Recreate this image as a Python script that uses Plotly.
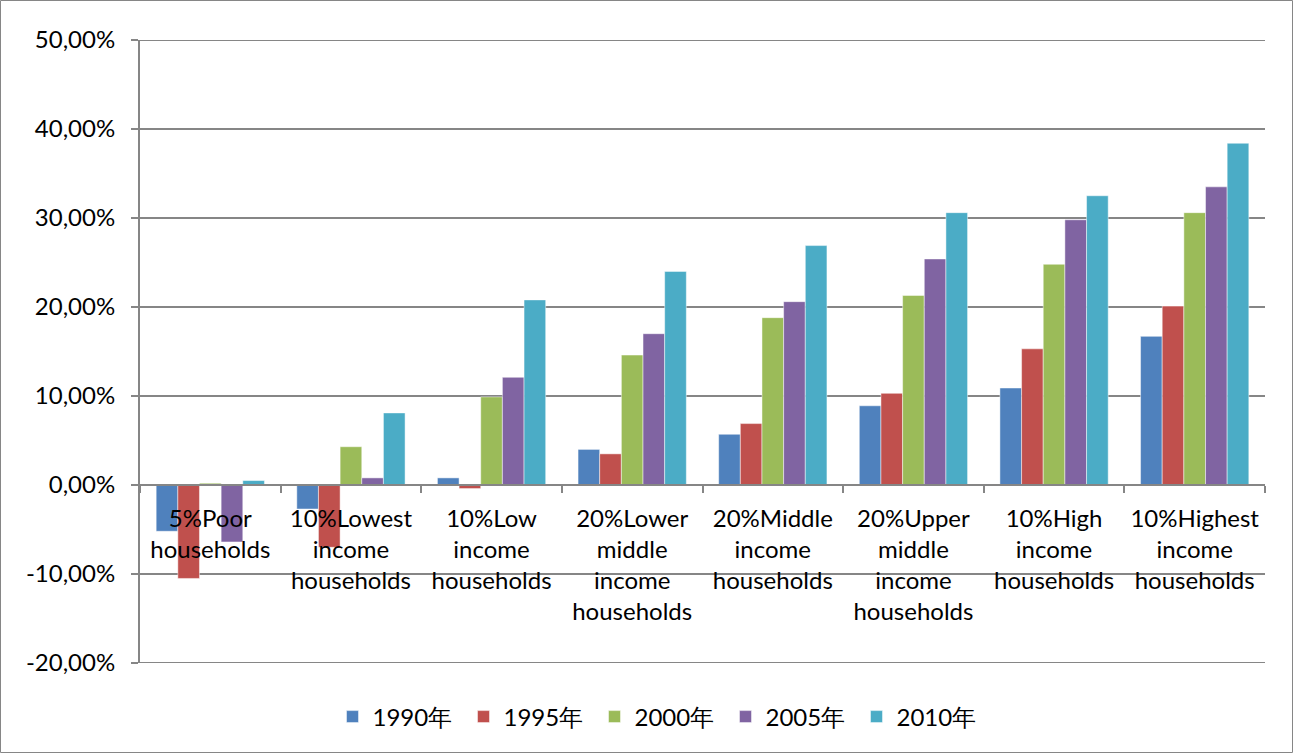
import plotly.graph_objects as go

categories = [
    "5%Poor<br>households",
    "10%Lowest<br>income<br>households",
    "10%Low<br>income<br>households",
    "20%Lower<br>middle<br>income<br>households",
    "20%Middle<br>income<br>households",
    "20%Upper<br>middle<br>income<br>households",
    "10%High<br>income<br>households",
    "10%Highest<br>income<br>households",
]
series_names = ["1990年", "1995年", "2000年", "2005年", "2010年"]
v1990 = [-0.052, -0.027, 0.008, 0.040, 0.057, 0.089, 0.109, 0.167]
v1995 = [-0.105, -0.070, -0.004, 0.035, 0.069, 0.103, 0.153, 0.201]
v2000 = [0.002, 0.043, 0.099, 0.146, 0.188, 0.213, 0.248, 0.306]
v2005 = [-0.064, 0.008, 0.121, 0.170, 0.206, 0.254, 0.298, 0.335]
v2010 = [0.005, 0.081, 0.208, 0.240, 0.269, 0.306, 0.325, 0.384]
series_values = [v1990, v1995, v2000, v2005, v2010]
colors = ["#4F81BD", "#C0504D", "#9BBB59", "#8064A2", "#4BACC6"]
y_tick_vals = [-0.20, -0.10, 0.0, 0.10, 0.20, 0.30, 0.40, 0.50]
y_tick_text = ["-20,00%", "-10,00%", "0,00%", "10,00%", "20,00%", "30,00%", "40,00%", "50,00%"]

W, H = 1293, 753
ML, MR, MT, MB = 140, 28, 40, 90
ymin, ymax = -0.20, 0.50

fig = go.Figure()
for name, vals, col in zip(series_names, series_values, colors):
    fig.add_trace(go.Bar(
        x=categories, y=vals, name=name,
        marker=dict(color=col, line=dict(color="rgba(255,255,255,0.6)", width=0.8)),
    ))

font_family = "Lato, 'Open Sans', sans-serif"
pw = W - ML - MR
ph = H - MT - MB
grid_col = "#868686"

shapes = [dict(
    type="rect", xref="paper", yref="paper",
    x0=-ML / pw + 0.5 / pw, x1=1 + MR / pw - 0.5 / pw,
    y0=-MB / ph + 0.5 / ph, y1=1 + MT / ph - 0.5 / ph,
    line=dict(color=grid_col, width=1), layer="below",
)]
for yv in (ymin, ymax):
    shapes.append(dict(type="line", xref="paper", yref="y", x0=0, x1=1, y0=yv, y1=yv,
                       line=dict(color=grid_col, width=2), layer="below"))

fig.update_layout(
    width=W, height=H,
    margin=dict(l=ML, r=MR, t=MT, b=MB, pad=0),
    paper_bgcolor="white", plot_bgcolor="white",
    barmode="group", bargap=0.23, bargroupgap=0,
    font=dict(family=font_family, size=24, color="black"),
    showlegend=True,
    legend=dict(
        orientation="h", x=(660 - ML) / pw, xanchor="center",
        y=-(717 - (H - MB)) / ph, yanchor="middle",
        font=dict(size=24, color="black"), entrywidth=86, itemwidth=30,
        traceorder="normal",
    ),
    xaxis=dict(
        anchor="free", position=(0 - ymin) / (ymax - ymin),
        showline=True, linecolor=grid_col, linewidth=2,
        ticks="outside", tickson="boundaries", ticklen=7, tickcolor=grid_col, tickwidth=2,
        showgrid=False, tickangle=0, tickfont=dict(size=24),
        ticklabelstandoff=12,
    ),
    yaxis=dict(
        range=[ymin, ymax], tickvals=y_tick_vals, ticktext=y_tick_text,
        showline=True, linecolor=grid_col, linewidth=2,
        ticks="outside", ticklen=7, tickcolor=grid_col, tickwidth=2,
        showgrid=True, gridcolor=grid_col, gridwidth=2,
        zeroline=False, tickfont=dict(size=24), ticklabelstandoff=11,
    ),
    shapes=shapes,
)

fig.write_html("out.html")
